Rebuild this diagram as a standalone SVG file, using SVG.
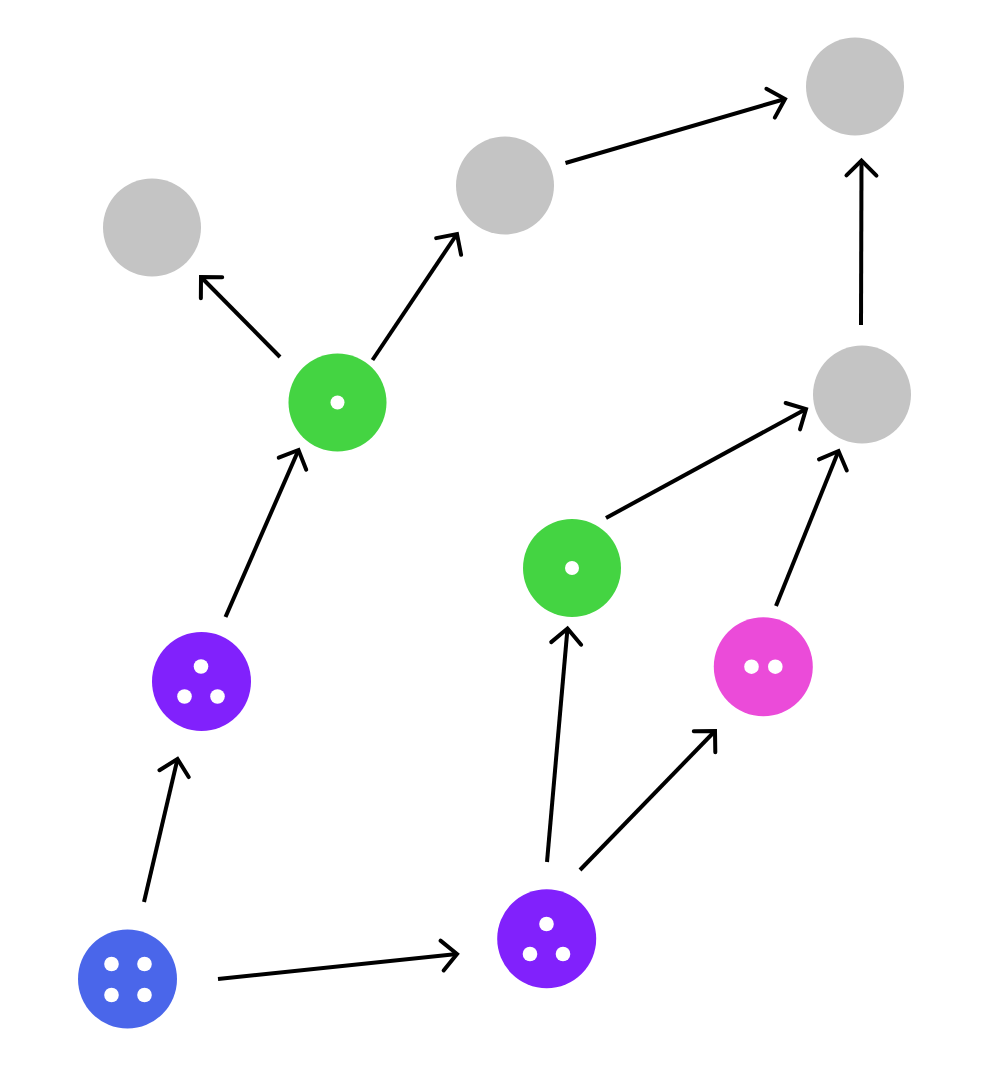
<svg xmlns="http://www.w3.org/2000/svg" width="994" height="1082" viewBox="0 0 994 1082">
<style>
.edge{stroke:#000;stroke-width:4;fill:none;marker-end:url(#arr)}
.gray{fill:#c4c4c4}
.green{fill:#44d442}
.purple{fill:#8121fc}
.blue{fill:#4a66ea}
.pink{fill:#eb4bd9}
.dot{fill:#fff}
</style>
<defs>
<marker id="arr" markerUnits="userSpaceOnUse" markerWidth="40" markerHeight="40" viewBox="-20 -20 40 40" refX="0" refY="0" orient="auto">
<path d="M-15,-15 L0,0 L-15,15" fill="none" stroke="#000" stroke-width="4" stroke-linecap="round" stroke-linejoin="miter"/>
</marker>
</defs>
<rect width="994" height="1082" fill="#fff"/>
<g id="connectors">
<line class="edge" x1="218" y1="979" x2="457" y2="954"/>
<line class="edge" x1="144" y1="902" x2="177.5" y2="759"/>
<line class="edge" x1="225.5" y1="617" x2="298.5" y2="450"/>
<line class="edge" x1="280" y1="357" x2="201" y2="277"/>
<line class="edge" x1="372.5" y1="360" x2="457" y2="234"/>
<line class="edge" x1="565.5" y1="163" x2="785" y2="99"/>
<line class="edge" x1="861" y1="325" x2="861.5" y2="160.5"/>
<line class="edge" x1="606" y1="518" x2="806" y2="409"/>
<line class="edge" x1="776" y1="606" x2="838.5" y2="451"/>
<line class="edge" x1="547" y1="862" x2="567.5" y2="628.5"/>
<line class="edge" x1="580" y1="870" x2="715" y2="731"/>
</g>
<g id="gray-a"><circle class="gray" cx="152" cy="227.5" r="49"/></g>
<g id="gray-b"><circle class="gray" cx="505" cy="185.5" r="49"/></g>
<g id="gray-c"><circle class="gray" cx="855" cy="86.5" r="49"/></g>
<g id="gray-d"><circle class="gray" cx="862" cy="394.5" r="49"/></g>
<g id="green-1"><circle class="green" cx="337.5" cy="402.5" r="49"/><circle class="dot" cx="337.5" cy="402.5" r="7"/></g>
<g id="green-2"><circle class="green" cx="572" cy="568" r="49"/><circle class="dot" cx="572" cy="568" r="7"/></g>
<g id="purple-1"><circle class="purple" cx="201.5" cy="681.5" r="49.5"/><circle class="dot" cx="201" cy="666.5" r="7.3"/><circle class="dot" cx="184.5" cy="696.5" r="7.3"/><circle class="dot" cx="217.5" cy="696.5" r="7.3"/></g>
<g id="purple-2"><circle class="purple" cx="546.7" cy="938.8" r="49.5"/><circle class="dot" cx="546.5" cy="924" r="7.3"/><circle class="dot" cx="530" cy="954" r="7.3"/><circle class="dot" cx="563" cy="954" r="7.3"/></g>
<g id="pink"><circle class="pink" cx="763.3" cy="666.8" r="49.5"/><circle class="dot" cx="751.5" cy="666.7" r="7.3"/><circle class="dot" cx="775.3" cy="666.7" r="7.3"/></g>
<g id="blue"><circle class="blue" cx="127.5" cy="979" r="49.5"/><circle class="dot" cx="111.5" cy="964" r="7.3"/><circle class="dot" cx="144.5" cy="964" r="7.3"/><circle class="dot" cx="111.5" cy="995" r="7.3"/><circle class="dot" cx="144.5" cy="995" r="7.3"/></g>
</svg>
